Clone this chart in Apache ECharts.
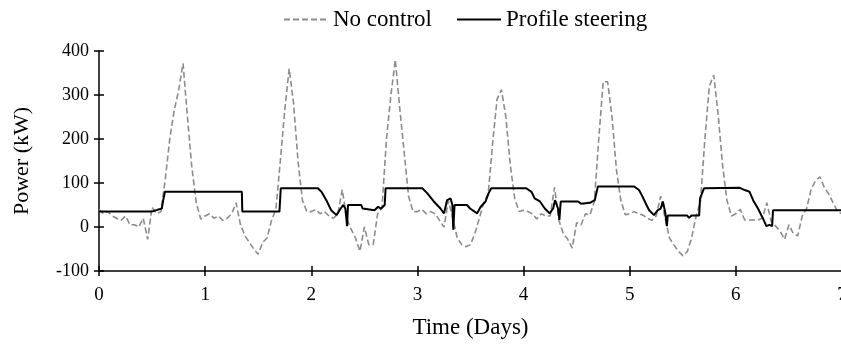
<!DOCTYPE html>
<html><head><meta charset="utf-8">
<script src="https://cdn.jsdelivr.net/npm/echarts@6/dist/echarts.min.js"></script>
<style>html,body{margin:0;padding:0;background:#fff}#c{width:841px;height:346px}</style>
</head><body><div id="c"></div>
<script>
// Hourly "No control" power (kW), hour 0..168
const noControl = [
  40,30,35,25,20,15,25,5,5,0,20,-28,45,30,35,110,200,265,310,372,250,135,55,18,
  25,30,20,25,15,20,30,55,5,-20,-35,-50,-62,-35,-25,15,40,150,265,360,280,150,60,35,
  35,40,30,35,25,20,30,85,20,-5,-25,-55,0,-40,-40,30,45,200,300,380,270,170,70,35,
  35,40,30,35,30,15,0,60,20,-25,-40,-45,-40,-15,20,55,75,190,290,312,250,140,65,35,
  38,35,30,18,30,25,25,90,15,-15,-28,-48,10,5,30,27,58,200,330,330,250,130,60,28,
  30,35,30,27,20,15,25,70,20,-25,-41,-55,-65,-56,-25,25,58,200,320,345,255,140,60,25,
  30,40,16,16,16,16,20,55,12,2,-10,-28,5,-15,-20,25,42,85,105,114,90,75,55,35,
  30
];
// "Profile steering" breakpoints (hours) and values (kW)
const profileHours = [0,11.9,12.2,14.2,14.5,14.9,32.3,32.4,40.8,41.1,
  49.5,50.3,51.4,52.5,53.7,54.4,55.2,55.7,56.0,56.1,56.3,59.3,59.6,62.3,63.1,63.8,64.6,64.8,
  73.1,74.2,75.7,77.2,78.0,78.7,79.5,79.9,80.1,80.4,83.2,83.9,85.5,86.3,87.4,88.1,88.7,
  96.6,97.8,98.5,99.7,100.8,101.9,102.7,103.1,103.5,103.8,104.1,104.4,108.3,109,111,112.1,112.8,
  121,122.1,122.9,123.6,124.4,125.5,126.3,127,127.5,128,128.4,128.6,133,133.4,134,135.7,135.9,136.8,
  144.9,146,147.1,147.9,149,150.1,150.9,151.6,152.2,152.4,168];
const profileValues = [35,35,37,42,60,80,80,35,35,88,
  88,80,61,38,27,38,50,42,46,2,50,50,42,38,46,42,50,88,
  88,77,58,42,31,61,65,50,-6,50,50,42,31,46,58,77,88,
  88,80,65,58,42,31,42,61,58,42,16,58,58,53,55,61,92,
  92,84,69,54,38,27,38,42,58,35,2,26,26,21,26,26,65,88,
  89,84,80,61,42,20,2,5,2,38,38];
const xTickMin = 0, xTickMax = 7, xTickStep = 1;
const yTickMin = -100, yTickMax = 400, yTickStep = 100;
const seriesNames = ['No control', 'Profile steering'];

const FONT = '"Liberation Serif", "DejaVu Serif", serif';
const ncData = noControl.map((v, i) => [i / 24, v]);
const psData = profileHours.map((h, i) => [h / 24, profileValues[i]]);

const chart = echarts.init(document.getElementById('c'), null, {renderer: 'canvas'});
const axisCommonX = {type: 'value', min: xTickMin, max: xTickMax, interval: xTickStep};
const axisCommonY = {type: 'value', min: yTickMin, max: yTickMax, interval: yTickStep};
chart.setOption({
  animation: false,
  backgroundColor: '#fff',
  textStyle: {fontFamily: FONT},
  legend: {
    top: 3, left: 278,
    itemWidth: 44, itemHeight: 14, itemGap: 24,
    itemStyle: {opacity: 0},
    textStyle: {fontFamily: FONT, fontSize: 23, color: '#000'},
    data: seriesNames
  },
  grid: {left: 99, right: -1, top: 51, bottom: 75, containLabel: false, outerBoundsMode: 'none'},
  xAxis: [
    Object.assign({}, axisCommonX, {
      name: 'Time (Days)', nameLocation: 'middle', nameGap: 45,
      nameTextStyle: {fontFamily: FONT, fontSize: 23, color: '#000'},
      axisLine: {show: true, onZero: false, lineStyle: {color: '#000', width: 1.5}},
      axisTick: {show: true, inside: false, length: 5, lineStyle: {color: '#000', width: 1.5}},
      axisLabel: {fontFamily: FONT, fontSize: 19, color: '#000', margin: 15},
      splitLine: {show: false}
    }),
    Object.assign({}, axisCommonX, {
      position: 'bottom',
      axisLine: {show: false, onZero: false},
      axisTick: {show: true, inside: true, length: 5, lineStyle: {color: '#000', width: 1.5}},
      axisLabel: {show: false}, splitLine: {show: false}
    })
  ],
  yAxis: [
    Object.assign({}, axisCommonY, {
      name: 'Power (kW)', nameLocation: 'middle', nameGap: 66, nameRotate: 90,
      nameTextStyle: {fontFamily: FONT, fontSize: 22, color: '#000'},
      axisLine: {show: true, onZero: false, lineStyle: {color: '#000', width: 1.5}},
      axisTick: {show: true, inside: false, length: 5, lineStyle: {color: '#000', width: 1.5}},
      axisLabel: {fontFamily: FONT, fontSize: 18, color: '#000', margin: 10},
      splitLine: {show: false}
    }),
    Object.assign({}, axisCommonY, {
      position: 'left',
      axisLine: {show: false, onZero: false},
      axisTick: {show: true, inside: true, length: 5, lineStyle: {color: '#000', width: 1.5}},
      axisLabel: {show: false}, splitLine: {show: false}
    })
  ],
  series: [
    {
      name: seriesNames[0], type: 'line', data: ncData,
      showSymbol: false, symbol: 'none',
      lineStyle: {color: '#8c8c8c', width: 1.6, type: [6, 3]},
      itemStyle: {color: '#8c8c8c'},
      z: 2
    },
    {
      name: seriesNames[1], type: 'line', data: psData,
      showSymbol: false, symbol: 'none',
      lineStyle: {color: '#000', width: 2},
      itemStyle: {color: '#000'},
      z: 3
    }
  ]
});
</script>
</body></html>
